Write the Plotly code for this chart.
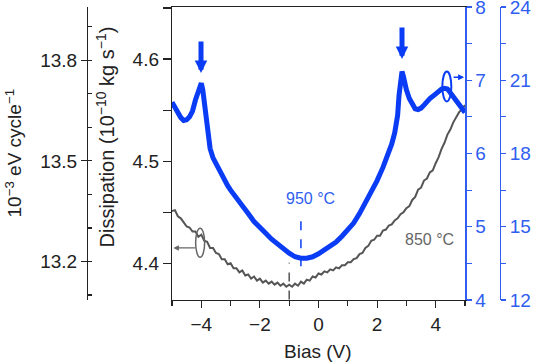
import plotly.graph_objects as go

# ---------------- data ----------------
bias_850 = [round(-5.0 + 0.1 * i, 1) for i in range(101)]
diss_850 = [
    4.451, 4.452, 4.446, 4.444, 4.440, 4.436, 4.435, 4.431, 4.431, 4.426,
    4.428, 4.422, 4.421, 4.415, 4.415, 4.410, 4.409, 4.404, 4.404, 4.399,
    4.400, 4.395, 4.395, 4.391, 4.393, 4.388, 4.389, 4.385, 4.387, 4.383,
    4.385, 4.381, 4.383, 4.380, 4.382, 4.379, 4.381, 4.378, 4.380, 4.377,
    4.379, 4.377, 4.380, 4.378, 4.382, 4.380, 4.384, 4.383, 4.387, 4.386,
    4.390, 4.389, 4.392, 4.391, 4.394, 4.393, 4.396, 4.395, 4.398, 4.398,
    4.401, 4.401, 4.404, 4.405, 4.409, 4.410, 4.415, 4.417, 4.422, 4.423,
    4.427, 4.427, 4.432, 4.433, 4.437, 4.438, 4.442, 4.444, 4.448, 4.450,
    4.454, 4.456, 4.462, 4.465, 4.472, 4.474, 4.481, 4.483, 4.489, 4.491,
    4.498, 4.504, 4.512, 4.518, 4.526, 4.531, 4.538, 4.543, 4.548, 4.551,
    4.555,
]

bias_950 = [
    -5.0, -4.9, -4.8, -4.7, -4.6, -4.5, -4.4, -4.3, -4.2, -4.1,
    -4.0, -3.95, -3.9, -3.85, -3.8, -3.75, -3.7, -3.6, -3.5, -3.4,
    -3.3, -3.2, -3.1, -3.0, -2.8, -2.6, -2.4, -2.2, -2.0, -1.8,
    -1.6, -1.4, -1.2, -1.0, -0.8, -0.6, -0.4, -0.2, 0.0, 0.2,
    0.4, 0.6, 0.8, 1.0, 1.2, 1.4, 1.6, 1.8, 2.0, 2.2,
    2.4, 2.5, 2.6, 2.7, 2.75, 2.8, 2.85, 2.9, 2.95, 3.0,
    3.1, 3.2, 3.3, 3.4, 3.5, 3.6, 3.7, 3.8, 3.9, 4.0,
    4.1, 4.2, 4.3, 4.4, 4.5, 4.6, 4.7, 4.8, 4.9, 5.0,
]
diss_950 = [
    6.70, 6.62, 6.55, 6.49, 6.45, 6.46, 6.50, 6.58, 6.73, 6.85,
    6.96, 6.87, 6.70, 6.45, 6.30, 6.16, 6.07, 5.94, 5.86, 5.79,
    5.70, 5.62, 5.56, 5.50, 5.40, 5.29, 5.18, 5.07, 4.98, 4.91,
    4.83, 4.76, 4.69, 4.64, 4.59, 4.57, 4.57, 4.59, 4.63, 4.68,
    4.74, 4.79, 4.87, 4.95, 5.05, 5.18, 5.32, 5.47, 5.63, 5.81,
    6.02, 6.13, 6.28, 6.52, 6.80, 7.02, 7.12, 7.05, 6.95, 6.87,
    6.75, 6.66, 6.61, 6.60, 6.62, 6.66, 6.71, 6.75, 6.78, 6.82,
    6.85, 6.88, 6.89, 6.88, 6.83, 6.78, 6.73, 6.67, 6.61, 6.56,
]

x_ticks = [-4, -2, 0, 2, 4]
label_950 = "950 °C"
label_850 = "850 °C"

# ---------------- style ----------------
BLUE = "#0a3cf5"
BLUE_AX = "#2f5ef0"
GRAY = "#555555"
FONT = "Liberation Sans, Arial, Helvetica, sans-serif"
W, H = 535, 362

fig = go.Figure()
fig.add_trace(go.Scatter(x=bias_850, y=diss_850, mode="lines",
                         line=dict(color=GRAY, width=2), yaxis="y",
                         hoverinfo="skip", showlegend=False))
fig.add_trace(go.Scatter(x=bias_950, y=diss_950, mode="lines",
                         line=dict(color=BLUE, width=5), yaxis="y2",
                         hoverinfo="skip", showlegend=False))
# invisible helpers so the extra unit axes are drawn
fig.add_trace(go.Scatter(x=[0], y=[13.5], mode="markers", marker=dict(opacity=0),
                         yaxis="y3", hoverinfo="skip", showlegend=False))
fig.add_trace(go.Scatter(x=[0], y=[18], mode="markers", marker=dict(opacity=0),
                         yaxis="y4", hoverinfo="skip", showlegend=False))

xd = [172 / W, 465 / W]
yd = [62 / H, 355 / H]
tickfont = dict(family=FONT, size=19, color="#222")
bluefont = dict(family=FONT, size=19, color=BLUE_AX)

fig.update_layout(
    width=W, height=H, template="none",
    margin=dict(l=0, r=0, t=0, b=0),
    paper_bgcolor="white", plot_bgcolor="white",
    showlegend=False,
    xaxis=dict(domain=xd, range=[-5, 5], tickvals=x_ticks, ticks="outside",
               ticklen=7, tickwidth=1.2, tickcolor="#222", showline=True,
               linecolor="#222", linewidth=1.2, mirror=True, showgrid=False,
               zeroline=False, tickfont=tickfont, ticklabeloverflow="allow",
               minor=dict(dtick=1, tick0=-5, ticks="outside", ticklen=5,
                          tickwidth=1.2, tickcolor="#222")),
    yaxis=dict(domain=yd, range=[4.364, 4.651], tick0=4.4, dtick=0.1,
               tickformat=".1f", ticks="outside", ticklen=8, tickwidth=1.2,
               tickcolor="#222", showline=True, linecolor="#222", linewidth=1.2,
               showgrid=False, zeroline=False, tickfont=tickfont,
               ticklabeloverflow="allow",
               minor=dict(dtick=0.05, tick0=4.4, ticks="outside", ticklen=8,
                          tickwidth=1.2, tickcolor="#222")),
    yaxis2=dict(overlaying="y", side="right", anchor="x", range=[4, 8], dtick=1,
                ticks="outside", ticklen=5, tickwidth=1.2, tickcolor=BLUE_AX,
                showline=True, linecolor=BLUE_AX, linewidth=1.5, showgrid=False,
                zeroline=False, tickfont=bluefont, ticklabeloverflow="allow",
                minor=dict(dtick=0.5, tick0=4, ticks="outside", ticklen=5,
                           tickwidth=1.2, tickcolor=BLUE_AX)),
    yaxis3=dict(overlaying="y", side="left", anchor="free", position=87 / W,
                range=[13.085, 13.959], tick0=13.2, dtick=0.3, tickformat=".1f",
                ticks="outside", ticklen=6, tickwidth=1.2, tickcolor="#222",
                showline=True, linecolor="#222", linewidth=1.2, showgrid=False,
                zeroline=False, tickfont=tickfont, ticklabeloverflow="allow",
                minor=dict(dtick=0.1, tick0=13.2, ticks="inside", ticklen=4,
                           tickwidth=1.2, tickcolor="#222")),
    yaxis4=dict(overlaying="y", side="right", anchor="free", position=499.5 / W,
                range=[12, 24], dtick=3, ticks="outside", ticklen=5,
                tickwidth=1.2, tickcolor=BLUE_AX, showline=True,
                linecolor=BLUE_AX, linewidth=1.5, showgrid=False, zeroline=False,
                tickfont=bluefont, ticklabeloverflow="allow",
                minor=dict(dtick=1.5, tick0=12, ticks="outside", ticklen=5,
                           tickwidth=1.2, tickcolor=BLUE_AX)),
)

ann = []
# axis titles
ann.append(dict(text="Bias (V)", xref="paper", yref="paper", x=318 / W,
                y=1 - 351.5 / H, showarrow=False, xanchor="center",
                yanchor="middle", font=dict(family=FONT, size=19, color="#222")))
ann.append(dict(text="Dissipation (10<sup>−10</sup> kg s<sup>−1</sup>)",
                xref="paper", yref="paper", x=105 / W, y=1 - 137.5 / H,
                textangle=-90, showarrow=False, xanchor="center", yanchor="middle",
                font=dict(family=FONT, size=20, color="#222")))
ann.append(dict(text="10<sup>−3</sup> eV cycle<sup>−1</sup>",
                xref="paper", yref="paper", x=13 / W, y=1 - 153.5 / H,
                textangle=-90, showarrow=False, xanchor="center", yanchor="middle",
                font=dict(family=FONT, size=19, color="#222")))
# curve labels
ann.append(dict(text=label_950, x=-0.29, y=5.39, xref="x", yref="y2",
                showarrow=False, font=dict(family=FONT, size=16, color=BLUE_AX)))
ann.append(dict(text=label_850, x=3.8, y=4.423, xref="x", yref="y",
                showarrow=False, font=dict(family=FONT, size=16, color="#666")))
# peak arrows
for px, py in [(-4.01, 7.10), (2.85, 7.29)]:
    ann.append(dict(text="", x=px, y=py, xref="x", yref="y2", ax=0, ay=-33,
                    showarrow=True, arrowhead=2, arrowwidth=5, arrowsize=0.5,
                    arrowcolor=BLUE, standoff=0))
# axis pointer arrows
ann.append(dict(text="", x=-4.95, y=4.415, xref="x", yref="y", ax=23, ay=0,
                showarrow=True, arrowhead=2, arrowwidth=1.2, arrowsize=0.9,
                arrowcolor="#666", standoff=0))
ann.append(dict(text="", x=4.97, y=7.04, xref="x", yref="y2", ax=-12, ay=0,
                showarrow=True, arrowhead=2, arrowwidth=1.5, arrowsize=0.8,
                arrowcolor=BLUE, standoff=0))
fig.update_layout(annotations=ann)

shapes = [
    dict(type="circle", xref="x", yref="y", xsizemode="pixel", ysizemode="pixel",
         xanchor=-4.04, yanchor=4.420, x0=-4.5, x1=4.5, y0=-14.5, y1=14.5,
         line=dict(color="#666", width=1.5)),
    dict(type="circle", xref="x", yref="y2", xsizemode="pixel", ysizemode="pixel",
         xanchor=4.38, yanchor=6.915, x0=-4.5, x1=4.5, y0=-15, y1=15,
         line=dict(color=BLUE, width=2)),
    dict(type="line", xref="x", yref="y2", x0=-0.6, x1=-0.6, y0=4.46, y1=5.16,
         line=dict(color=BLUE, width=1.5, dash="dash")),
    dict(type="line", xref="x", yref="y", x0=-1.0, x1=-1.0, y0=4.3644, y1=4.4006,
         line=dict(color="#555", width=1.5, dash="dash")),
]
fig.update_layout(shapes=shapes)

fig.write_html("out.html",
               config={"displayModeBar": False, "staticPlot": True},
               post_script="document.body.style.margin='0';"
                           "document.body.style.overflow='hidden';")
